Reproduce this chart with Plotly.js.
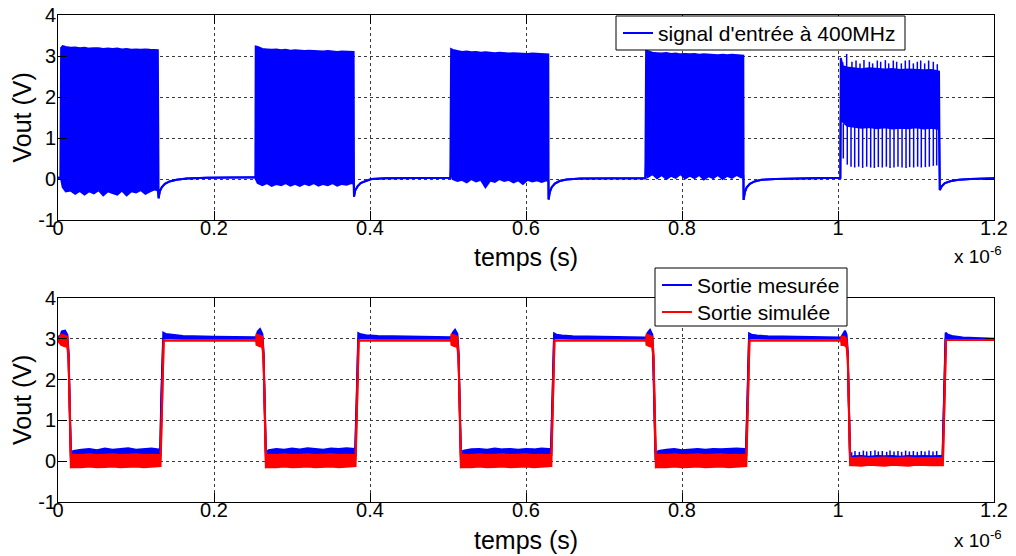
<!DOCTYPE html>
<html><head><meta charset="utf-8">
<script src="https://cdn.plot.ly/plotly-3.0.1.min.js"></script>
<style>html,body{margin:0;padding:0;background:#fff}#chart{width:1016px;height:556px}</style>
</head><body><div id="chart"></div>
<script>
// ---------- Data (time in units of 1e-6 s, voltage in V) ----------
const xTicks = [0, 0.2, 0.4, 0.6, 0.8, 1, 1.2];
const xTickText = ["0", "0.2", "0.4", "0.6", "0.8", "1", "1.2"];
const yTicks = [-1, 0, 1, 2, 3, 4];
const yTickText = ["-1", "0", "1", "2", "3", "4"];
const xTitle = "temps (s)";
const yTitle = "Vout (V)";
const xExponent = "x 10<sup>-6</sup>";
const nameIn = "signal d'entrée à 400MHz";
const nameMes = "Sortie mesurée";
const nameSim = "Sortie simulée";

// Input signal (400 MHz bursts): upper / lower envelope of the trace
const inT = [0, 0.003,
  0.004, 0.006, 0.010, 0.016, 0.022, 0.028, 0.034, 0.040, 0.046, 0.052, 0.058, 0.064, 0.070, 0.076, 0.082, 0.088, 0.094, 0.100, 0.106, 0.112, 0.118, 0.124, 0.128,
  0.129, 0.1305, 0.133, 0.137, 0.143, 0.152, 0.165, 0.19, 0.253,
  0.2535, 0.256, 0.262, 0.268, 0.274, 0.280, 0.286, 0.292, 0.298, 0.304, 0.310, 0.316, 0.322, 0.328, 0.334, 0.340, 0.346, 0.352, 0.358, 0.364, 0.370, 0.376, 0.379,
  0.3795, 0.381, 0.384, 0.388, 0.394, 0.402, 0.42, 0.46, 0.503,
  0.504, 0.506, 0.512, 0.518, 0.524, 0.530, 0.536, 0.542, 0.548, 0.554, 0.560, 0.566, 0.572, 0.578, 0.584, 0.590, 0.596, 0.602, 0.608, 0.614, 0.620, 0.626, 0.6286,
  0.629, 0.6305, 0.633, 0.637, 0.643, 0.652, 0.67, 0.71, 0.753,
  0.754, 0.756, 0.762, 0.768, 0.774, 0.780, 0.786, 0.792, 0.798, 0.804, 0.810, 0.816, 0.822, 0.828, 0.834, 0.840, 0.846, 0.852, 0.858, 0.864, 0.870, 0.876, 0.8786,
  0.879, 0.8805, 0.883, 0.887, 0.893, 0.902, 0.92, 0.96, 1.003,
  1.0035, 1.006, 1.012, 1.02, 1.03, 1.04, 1.05, 1.06, 1.07, 1.08, 1.09, 1.10, 1.11, 1.12, 1.1295,
  1.1305, 1.133, 1.137, 1.145, 1.155, 1.17, 1.2];
const inHi = [0.03, 0.03,
  3.2, 3.24, 3.22, 3.2, 3.21, 3.19, 3.2, 3.18, 3.19, 3.19, 3.17, 3.18, 3.17, 3.18, 3.16, 3.17, 3.15, 3.16, 3.15, 3.16, 3.15, 3.15, 3.14,
  -0.47, -0.3, -0.2, -0.12, -0.06, -0.02, 0.01, 0.03, 0.04,
  3.23, 3.22, 3.17, 3.16, 3.15, 3.16, 3.14, 3.15, 3.13, 3.14, 3.13, 3.12, 3.13, 3.12, 3.12, 3.11, 3.12, 3.11, 3.1, 3.11, 3.1, 3.1, 3.1,
  -0.43, -0.28, -0.18, -0.1, -0.05, 0.0, 0.02, 0.03, 0.03,
  3.17, 3.15, 3.12, 3.1, 3.11, 3.09, 3.1, 3.08, 3.09, 3.08, 3.07, 3.08, 3.07, 3.06, 3.07, 3.06, 3.06, 3.05, 3.06, 3.05, 3.05, 3.04, 3.04,
  -0.5, -0.32, -0.2, -0.11, -0.05, -0.01, 0.01, 0.02, 0.02,
  3.13, 3.12, 3.08, 3.07, 3.06, 3.07, 3.05, 3.06, 3.04, 3.05, 3.04, 3.05, 3.03, 3.04, 3.03, 3.03, 3.02, 3.03, 3.02, 3.03, 3.02, 3.02, 3.01,
  -0.51, -0.33, -0.2, -0.12, -0.06, -0.02, 0.0, 0.02, 0.03,
  2.95, 2.75, 2.72, 2.7, 2.68, 2.7, 2.68, 2.67, 2.68, 2.66, 2.67, 2.66, 2.65, 2.66, 2.62,
  -0.27, -0.18, -0.1, -0.05, -0.02, 0.0, 0.02];
const inLo = [0.03, 0.03,
  0.0, -0.2, -0.3, -0.28, -0.36, -0.29, -0.38, -0.3, -0.35, -0.27, -0.4, -0.3, -0.34, -0.38, -0.28, -0.4, -0.3, -0.33, -0.27, -0.36, -0.3, -0.25, -0.28,
  -0.47, -0.3, -0.2, -0.12, -0.06, -0.02, 0.01, 0.03, 0.04,
  0.0, -0.1, -0.15, -0.1, -0.17, -0.12, -0.15, -0.1, -0.16, -0.12, -0.17, -0.11, -0.15, -0.1, -0.16, -0.12, -0.15, -0.1, -0.16, -0.12, -0.14, -0.1, -0.12,
  -0.43, -0.28, -0.18, -0.1, -0.05, 0.0, 0.02, 0.03, 0.03,
  0.3, 0.0, -0.05, -0.02, -0.08, 0.0, -0.06, -0.02, -0.2, -0.04, -0.07, 0.0, -0.05, -0.02, -0.08, -0.03, -0.12, -0.02, -0.06, -0.03, -0.07, -0.03, -0.05,
  -0.5, -0.32, -0.2, -0.11, -0.05, -0.01, 0.01, 0.02, 0.02,
  0.39, 0.05, 0.12, 0.02, 0.1, 0.0, 0.08, 0.03, 0.12, 0.01, 0.08, 0.02, 0.1, -0.01, 0.07, 0.02, 0.1, 0.0, 0.08, 0.03, 0.1, 0.04, 0.06,
  -0.51, -0.33, -0.2, -0.12, -0.06, -0.02, 0.0, 0.02, 0.03,
  1.55, 1.4, 1.3, 1.28, 1.25, 1.27, 1.24, 1.26, 1.23, 1.25, 1.24, 1.26, 1.23, 1.25, 1.22,
  -0.27, -0.18, -0.1, -0.05, -0.02, 0.0, 0.02];

// Last burst: individual spikes visible below / above the band
const inDownBase = 1.35;
const inDownT = [1.0068, 1.0119, 1.0167, 1.0214, 1.0265, 1.0316, 1.0368, 1.0419, 1.0466, 1.0517, 1.0568, 1.0620, 1.0667,
  1.0718, 1.0769, 1.0821, 1.0872, 1.0919, 1.0970, 1.1021, 1.1068, 1.1120, 1.1171, 1.1222, 1.1265];
const inDownMin = [0.5, 0.35, 0.3, 0.28, 0.3, 0.27, 0.3, 0.28, 0.27, 0.29, 0.28, 0.3, 0.27,
  0.28, 0.3, 0.28, 0.27, 0.29, 0.28, 0.3, 0.28, 0.29, 0.3, 0.32, 0.33];
const inUpBase = 2.62;
const inUpT = [1.0060, 1.0111, 1.0179, 1.0231, 1.0282, 1.0333, 1.0402, 1.0444, 1.0504, 1.0547, 1.0607, 1.0650,
  1.0709, 1.0752, 1.0812, 1.0863, 1.0915, 1.0966, 1.1017, 1.1060, 1.1111, 1.1162, 1.1222, 1.1273];
const inUpMax = [2.85, 3.05, 2.86, 2.89, 2.82, 2.9, 2.86, 2.82, 2.89, 2.86, 2.9, 2.82,
  2.89, 2.86, 2.82, 2.89, 2.9, 2.82, 2.86, 2.89, 2.82, 2.89, 2.86, 2.8];

// Measured output (blue): upper / lower envelope
const mesT = [0, 0.003, 0.005, 0.009, 0.012, 0.0135, 0.0165,
  0.02, 0.03, 0.04, 0.05, 0.06, 0.07, 0.08, 0.09, 0.10, 0.11, 0.12, 0.129, 0.131,
  0.1325, 0.135, 0.138, 0.145, 0.16, 0.20, 0.254,
  0.256, 0.259, 0.262, 0.2635, 0.2665,
  0.27, 0.28, 0.29, 0.30, 0.31, 0.32, 0.33, 0.34, 0.35, 0.36, 0.37, 0.379, 0.381,
  0.383, 0.385, 0.388, 0.395, 0.41, 0.45, 0.504,
  0.506, 0.509, 0.512, 0.5135, 0.5165,
  0.52, 0.53, 0.54, 0.55, 0.56, 0.57, 0.58, 0.59, 0.60, 0.61, 0.62, 0.629, 0.632,
  0.634, 0.636, 0.639, 0.646, 0.66, 0.70, 0.754,
  0.756, 0.759, 0.762, 0.763, 0.766,
  0.77, 0.78, 0.79, 0.80, 0.81, 0.82, 0.83, 0.84, 0.85, 0.86, 0.87, 0.880, 0.882,
  0.884, 0.886, 0.889, 0.896, 0.91, 0.95, 1.004,
  1.006, 1.009, 1.011, 1.0125, 1.0155,
  1.02, 1.03, 1.04, 1.05, 1.06, 1.07, 1.08, 1.09, 1.10, 1.11, 1.12, 1.131, 1.134,
  1.136, 1.138, 1.141, 1.148, 1.16, 1.2];
const mesHi = [3.05, 3.08, 3.18, 3.2, 3.1, 2.7, 0.22,
  0.25, 0.28, 0.3, 0.27, 0.31, 0.28, 0.3, 0.32, 0.28, 0.3, 0.31, 0.29, 0.3,
  1.6, 3.15, 3.12, 3.1, 3.07, 3.05, 3.04,
  3.18, 3.24, 3.12, 2.7, 0.22,
  0.27, 0.3, 0.28, 0.31, 0.29, 0.32, 0.3, 0.28, 0.31, 0.3, 0.32, 0.3, 0.3,
  1.6, 3.14, 3.11, 3.09, 3.07, 3.05, 3.04,
  3.15, 3.22, 3.12, 2.7, 0.22,
  0.26, 0.29, 0.3, 0.28, 0.31, 0.29, 0.3, 0.28, 0.3, 0.29, 0.31, 0.3, 0.3,
  1.6, 3.13, 3.1, 3.08, 3.06, 3.04, 3.03,
  3.15, 3.22, 3.1, 2.7, 0.2,
  0.25, 0.28, 0.3, 0.27, 0.29, 0.3, 0.28, 0.3, 0.29, 0.3, 0.31, 0.3, 0.3,
  1.6, 3.13, 3.1, 3.08, 3.06, 3.04, 3.03,
  3.1, 3.2, 3.1, 2.7, 0.08,
  0.12, 0.13, 0.11, 0.13, 0.12, 0.13, 0.11, 0.13, 0.12, 0.13, 0.12, 0.13, 0.12,
  1.6, 3.15, 3.1, 3.06, 3.03, 3.0];
const mesLo = [3.0, 2.98, 2.95, 2.9, 2.85, 2.6, 0.05,
  0.05, 0.05, 0.05, 0.05, 0.05, 0.05, 0.05, 0.05, 0.05, 0.05, 0.05, 0.05, 0.05,
  1.5, 3.0, 3.02, 3.02, 3.0, 3.0, 3.0,
  2.95, 2.9, 2.85, 2.6, 0.05,
  0.05, 0.05, 0.05, 0.05, 0.05, 0.05, 0.05, 0.05, 0.05, 0.05, 0.05, 0.05, 0.05,
  1.5, 3.0, 3.02, 3.02, 3.0, 3.0, 3.0,
  2.95, 2.9, 2.85, 2.6, 0.05,
  0.05, 0.05, 0.05, 0.05, 0.05, 0.05, 0.05, 0.05, 0.05, 0.05, 0.05, 0.05, 0.05,
  1.5, 3.0, 3.02, 3.02, 3.0, 3.0, 3.0,
  2.95, 2.9, 2.85, 2.6, 0.05,
  0.05, 0.05, 0.05, 0.05, 0.05, 0.05, 0.05, 0.05, 0.05, 0.05, 0.05, 0.05, 0.05,
  1.5, 3.0, 3.02, 3.02, 3.0, 3.0, 3.0,
  2.95, 2.9, 2.85, 2.6, 0.0,
  0.0, 0.0, 0.0, 0.0, 0.0, 0.0, 0.0, 0.0, 0.0, 0.0, 0.0, 0.0, 0.0,
  1.5, 3.0, 3.02, 3.0, 2.98, 2.97];
// Measured output, last low period: comb of small spikes
const mesSpikeBase = 0.1;
const mesSpikeT = [1.0175, 1.0218, 1.0274, 1.0325, 1.0368, 1.0419, 1.0474, 1.0517, 1.0568, 1.0624, 1.0667, 1.0718,
  1.0769, 1.0816, 1.0867, 1.0915, 1.0966, 1.1017, 1.1068, 1.1115, 1.1167, 1.1218, 1.1265];
const mesSpikeMax = [0.22, 0.25, 0.23, 0.26, 0.24, 0.25, 0.27, 0.24, 0.25, 0.23, 0.26, 0.24,
  0.25, 0.23, 0.26, 0.24, 0.25, 0.23, 0.25, 0.24, 0.26, 0.24, 0.25];

// Simulated output (red): upper / lower envelope
const simT = [0, 0.004, 0.008, 0.012, 0.0135, 0.0165,
  0.02, 0.03, 0.04, 0.05, 0.06, 0.07, 0.08, 0.09, 0.10, 0.11, 0.12, 0.129, 0.1315,
  0.1335, 0.1355, 0.254,
  0.2545, 0.258, 0.262, 0.2635, 0.2665,
  0.27, 0.28, 0.29, 0.30, 0.31, 0.32, 0.33, 0.34, 0.35, 0.36, 0.37, 0.379, 0.3815,
  0.3835, 0.3855, 0.504,
  0.5045, 0.508, 0.512, 0.5135, 0.5165,
  0.52, 0.53, 0.54, 0.55, 0.56, 0.57, 0.58, 0.59, 0.60, 0.61, 0.62, 0.629, 0.6325,
  0.6345, 0.6365, 0.754,
  0.7545, 0.758, 0.762, 0.7635, 0.7665,
  0.77, 0.78, 0.79, 0.80, 0.81, 0.82, 0.83, 0.84, 0.85, 0.86, 0.87, 0.880, 0.8825,
  0.8845, 0.8865, 1.004,
  1.0045, 1.008, 1.011, 1.0125, 1.0155,
  1.02, 1.03, 1.04, 1.05, 1.06, 1.07, 1.08, 1.09, 1.10, 1.11, 1.12, 1.131, 1.1345,
  1.1365, 1.1385, 1.2];
const simHi = [2.97, 3.1, 3.08, 3.05, 2.6, 0.15,
  0.16, 0.15, 0.17, 0.15, 0.16, 0.17, 0.15, 0.16, 0.17, 0.15, 0.16, 0.15, 0.15,
  1.5, 2.96, 2.96,
  3.1, 3.08, 3.05, 2.6, 0.15,
  0.16, 0.15, 0.17, 0.15, 0.16, 0.17, 0.15, 0.16, 0.17, 0.15, 0.16, 0.15, 0.15,
  1.5, 2.96, 2.96,
  3.1, 3.08, 3.05, 2.6, 0.15,
  0.16, 0.15, 0.17, 0.15, 0.16, 0.17, 0.15, 0.16, 0.17, 0.15, 0.16, 0.15, 0.15,
  1.5, 2.96, 2.96,
  3.1, 3.08, 3.05, 2.6, 0.15,
  0.16, 0.15, 0.17, 0.15, 0.16, 0.17, 0.15, 0.16, 0.17, 0.15, 0.16, 0.15, 0.15,
  1.5, 2.96, 2.96,
  3.05, 3.05, 3.0, 2.6, 0.08,
  0.08, 0.09, 0.07, 0.08, 0.09, 0.07, 0.08, 0.09, 0.07, 0.08, 0.08, 0.08, 0.08,
  1.5, 2.97, 2.97];
const simLo = [2.95, 2.85, 2.82, 2.8, 2.5, -0.15,
  -0.14, -0.15, -0.13, -0.15, -0.14, -0.13, -0.15, -0.14, -0.13, -0.15, -0.14, -0.14, -0.12,
  1.4, 2.96, 2.96,
  2.85, 2.82, 2.8, 2.5, -0.15,
  -0.14, -0.15, -0.13, -0.15, -0.14, -0.13, -0.15, -0.14, -0.13, -0.15, -0.14, -0.14, -0.12,
  1.4, 2.96, 2.96,
  2.85, 2.82, 2.8, 2.5, -0.15,
  -0.14, -0.15, -0.13, -0.15, -0.14, -0.13, -0.15, -0.14, -0.13, -0.15, -0.14, -0.14, -0.12,
  1.4, 2.96, 2.96,
  2.85, 2.82, 2.8, 2.5, -0.15,
  -0.14, -0.15, -0.13, -0.15, -0.14, -0.13, -0.15, -0.14, -0.13, -0.15, -0.14, -0.14, -0.12,
  1.4, 2.96, 2.96,
  2.85, 2.85, 2.8, 2.5, -0.1,
  -0.1, -0.11, -0.09, -0.1, -0.11, -0.09, -0.1, -0.11, -0.09, -0.1, -0.1, -0.1, -0.1,
  1.4, 2.97, 2.97];

// ---------- Drawing ----------
const FONT = "Liberation Sans, Arial, Helvetica, sans-serif";
const BLUE = "rgb(0,0,255)";
const RED = "rgb(255,0,0)";
const W = 1016, H = 556, ML = 58, MR = 22, MT = 15, MB = 54;
const PW = W - ML - MR, PH = H - MT - MB;
const px = v => (v - ML) / PW;          // pixel x -> paper x
const py = v => (H - MB - v) / PH;      // pixel y -> paper y

function spikes(ts, base, ends) {
  const x = [], y = [];
  ts.forEach((t, i) => { x.push(t, t, null); y.push(base, ends[i], null); });
  return { x, y };
}
const sDown = spikes(inDownT, inDownBase, inDownMin);
const sUp = spikes(inUpT, inUpBase, inUpMax);
const sMes = spikes(mesSpikeT, mesSpikeBase, mesSpikeMax);

const base = { mode: "lines", hoverinfo: "skip", showlegend: false };
const traces = [
  Object.assign({}, base, { x: inT, y: inHi, xaxis: "x", yaxis: "y", name: nameIn, line: { color: BLUE, width: 2 } }),
  Object.assign({}, base, { x: inT, y: inLo, xaxis: "x", yaxis: "y", fill: "tonexty", fillcolor: BLUE, line: { color: BLUE, width: 2 } }),
  Object.assign({}, base, { x: sDown.x, y: sDown.y, xaxis: "x", yaxis: "y", line: { color: BLUE, width: 1.5 } }),
  Object.assign({}, base, { x: sUp.x, y: sUp.y, xaxis: "x", yaxis: "y", line: { color: BLUE, width: 1.5 } }),
  Object.assign({}, base, { x: mesT, y: mesHi, xaxis: "x2", yaxis: "y2", name: nameMes, line: { color: BLUE, width: 2 } }),
  Object.assign({}, base, { x: mesT, y: mesLo, xaxis: "x2", yaxis: "y2", fill: "tonexty", fillcolor: BLUE, line: { color: BLUE, width: 2 } }),
  Object.assign({}, base, { x: sMes.x, y: sMes.y, xaxis: "x2", yaxis: "y2", line: { color: BLUE, width: 1.5 } }),
  Object.assign({}, base, { x: simT, y: simHi, xaxis: "x2", yaxis: "y2", name: nameSim, line: { color: RED, width: 2 } }),
  Object.assign({}, base, { x: simT, y: simLo, xaxis: "x2", yaxis: "y2", fill: "tonexty", fillcolor: RED, line: { color: RED, width: 2 } })
];

const axCommon = {
  showline: true, linecolor: "#000", linewidth: 1, mirror: "ticks",
  ticks: "inside", ticklen: 9, tickcolor: "#000", tickwidth: 1,
  showgrid: true, gridcolor: "#3a3a3a", griddash: "dot", gridwidth: 1,
  zeroline: false, automargin: false,
  tickfont: { family: FONT, size: 20, color: "#000" }
};
function xAx(anchor) {
  return Object.assign({}, axCommon, {
    anchor: anchor, domain: [0, 1], range: [0, 1.2], ticklabelstandoff: -10,
    tickmode: "array", tickvals: xTicks, ticktext: xTickText
  });
}
function yAx(anchor, dom) {
  return Object.assign({}, axCommon, {
    anchor: anchor, domain: dom, range: [-1, 4], ticklabelstandoff: -3,
    tickmode: "array", tickvals: yTicks, ticktext: yTickText
  });
}

const titleFont = { family: FONT, size: 25, color: "#000" };
const tickFont = { family: FONT, size: 19, color: "#000" };
const legFont = { family: FONT, size: 21, color: "#000" };
const ann = (x, y, text, font, extra) => Object.assign({ xref: "paper", yref: "paper", x, y, text, font, showarrow: false }, extra || {});

const annotations = [
  ann(0.5, py(257), xTitle, titleFont, { xanchor: "center", yanchor: "middle" }),
  ann(0.5, py(540), xTitle, titleFont, { xanchor: "center", yanchor: "middle" }),
  ann(px(22), py(117.5), yTitle, titleFont, { xanchor: "center", yanchor: "middle", textangle: -90 }),
  ann(px(22), py(400), yTitle, titleFont, { xanchor: "center", yanchor: "middle", textangle: -90 }),
  ann(px(1004), py(255), xExponent, tickFont, { xanchor: "right", yanchor: "middle" }),
  ann(px(1004), py(539), xExponent, tickFont, { xanchor: "right", yanchor: "middle" }),
  // legend texts
  ann(px(656), py(33), nameIn, legFont, { xanchor: "left", yanchor: "middle" }),
  ann(px(695), py(285), nameMes, legFont, { xanchor: "left", yanchor: "middle" }),
  ann(px(695), py(312), nameSim, legFont, { xanchor: "left", yanchor: "middle" })
];
const rect = (x0, y0, x1, y1) => ({ type: "rect", xref: "paper", yref: "paper", x0: px(x0), x1: px(x1), y0: py(y0), y1: py(y1),
  line: { color: "#000", width: 1 }, fillcolor: "#fff", layer: "above" });
const seg = (x0, x1, y, color) => ({ type: "line", xref: "paper", yref: "paper", x0: px(x0), x1: px(x1), y0: py(y), y1: py(y),
  line: { color, width: 2 }, layer: "above" });
const shapes = [
  rect(616, 16, 905, 50), seg(623, 653, 33, BLUE),
  rect(655, 268, 847, 326), seg(662, 692, 285, BLUE), seg(662, 692, 312, RED)
];

const layout = {
  width: W, height: H,
  margin: { l: ML, r: MR, t: MT, b: MB },
  paper_bgcolor: "#fff", plot_bgcolor: "#fff",
  font: { family: FONT, color: "#000" },
  showlegend: false,
  xaxis: xAx("y"), yaxis: yAx("x", [py(220), 1]),
  xaxis2: xAx("y2"), yaxis2: yAx("x2", [0, py(298)]),
  annotations, shapes
};

Plotly.newPlot("chart", traces, layout, { staticPlot: true, displayModeBar: false });
</script></body></html>
